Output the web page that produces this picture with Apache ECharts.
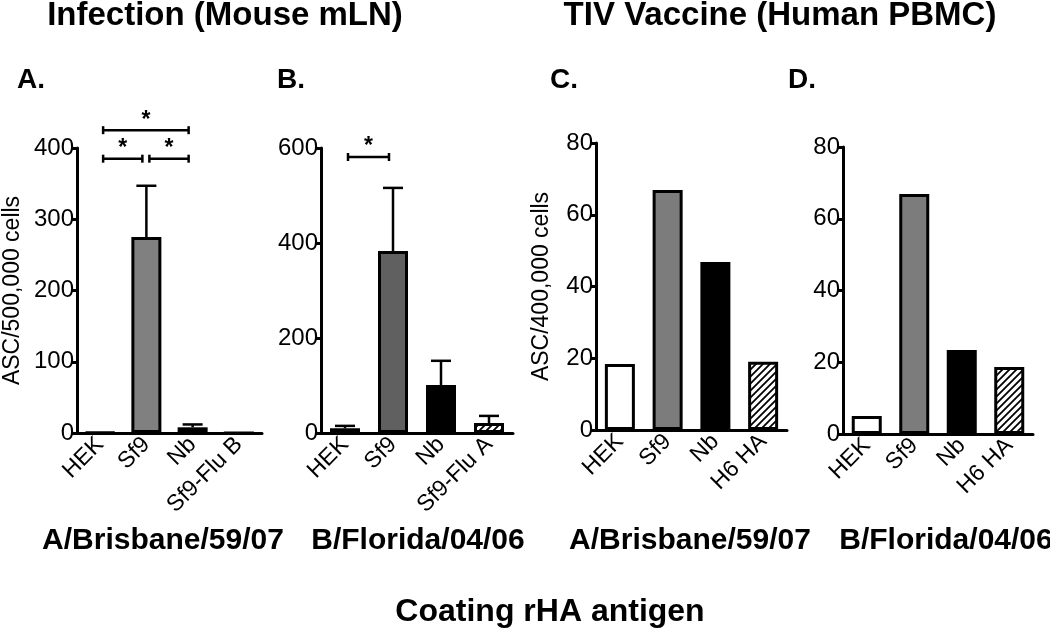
<!DOCTYPE html>
<html>
<head>
<meta charset="utf-8">
<script src="https://cdn.jsdelivr.net/npm/echarts@6/dist/echarts.min.js"></script>
<style>
  html, body { margin: 0; padding: 0; background: #fff; }
  #chart { width: 1050px; height: 633px; }
</style>
</head>
<body>
<div id="chart"></div>
<script>
// data
const catsA = ['HEK', 'Sf9', 'Nb', 'Sf9-Flu B']
const valsA = [1, 275, 8, 0]
const errsA = [0, 72, 4, 0]
const sigA = [[0, 1, 385], [1, 2, 385], [0, 2, 425]]

const catsB = ['HEK', 'Sf9', 'Nb', 'Sf9-Flu A']
const valsB = [10, 383, 101, 21]
const errsB = [5, 133, 51, 15]
const sigB = [[0, 1, 581]]

const catsC = ['HEK', 'Sf9', 'Nb', 'H6 HA']
const valsC = [18.4, 66.9, 46.8, 19]

const catsD = ['HEK', 'Sf9', 'Nb', 'H6 HA']
const valsD = [5, 66.9, 23.4, 18.7]

const FONT = '"Liberation Sans", Arial, Helvetica, sans-serif'

// diagonal hatch fill
function makeHatch () {
  const c = document.createElement('canvas')
  c.width = 7
  c.height = 7
  const ctx = c.getContext('2d')
  ctx.fillStyle = '#fff'
  ctx.fillRect(0, 0, 7, 7)
  ctx.strokeStyle = '#000'
  ctx.lineWidth = 1.8
  ctx.beginPath()
  ctx.moveTo(-1, 8); ctx.lineTo(8, -1)
  ctx.moveTo(-4, 4); ctx.lineTo(4, -4)
  ctx.moveTo(3, 11); ctx.lineTo(11, 3)
  ctx.stroke()
  return { image: c, repeat: 'repeat' }
}
const hatch = makeHatch()

function fills (sf9Color) {
  return ['#ffffff', sf9Color, '#000000', hatch]
}

const chart = echarts.init(document.getElementById('chart'), null, { renderer: 'canvas' })

const grids = [
  { left: 70, width: 192, top: 148, height: 285 },
  { left: 321, width: 192, top: 148, height: 285 },
  { left: 596, width: 191, top: 143, height: 287 },
  { left: 843, width: 190, top: 147, height: 287 }
]

function xAxis (i, cats) {
  return {
    type: 'category',
    gridIndex: i,
    data: cats,
    axisLine: { lineStyle: { color: '#000', width: 3 } },
    axisTick: { alignWithLabel: true, length: 6, lineStyle: { color: '#000', width: 3 } },
    axisLabel: { rotate: 45, interval: 0, fontSize: 23, color: '#000', margin: 8, fontFamily: FONT }
  }
}

function yAxis (i, max, interval, name, gap) {
  return {
    type: 'value',
    gridIndex: i,
    min: 0,
    max: max,
    interval: interval,
    name: name,
    nameLocation: 'middle',
    nameRotate: 90,
    nameGap: gap,
    nameTextStyle: { fontSize: 23, color: '#000', fontFamily: FONT },
    splitLine: { show: false },
    axisLine: { show: true, lineStyle: { color: '#000', width: 3 } },
    axisTick: { show: true, length: 5, lineStyle: { color: '#000', width: 3 } },
    axisLabel: { fontSize: 24, color: '#000', margin: 3, fontFamily: FONT }
  }
}

function barSeries (i, vals, sf9Color) {
  const f = fills(sf9Color)
  return {
    type: 'bar',
    xAxisIndex: i,
    yAxisIndex: i,
    barWidth: 30,
    data: vals.map((v, k) => ({ value: v, itemStyle: { color: f[k] } })),
    itemStyle: { borderColor: '#000', borderWidth: 3 },
    z: 2
  }
}

function errSeries (i, vals, errs) {
  return {
    type: 'custom',
    xAxisIndex: i,
    yAxisIndex: i,
    data: vals.map((v, k) => [k, v, v + errs[k]]),
    encode: { x: 0, y: [1, 2] },
    z: 3,
    renderItem: function (params, api) {
      if (api.value(2) - api.value(1) <= 0) return null
      const p0 = api.coord([api.value(0), api.value(1)])
      const p1 = api.coord([api.value(0), api.value(2)])
      const st = { stroke: '#000', lineWidth: 2.5 }
      return {
        type: 'group',
        children: [
          { type: 'line', shape: { x1: p0[0], y1: p0[1], x2: p1[0], y2: p1[1] }, style: st },
          { type: 'line', shape: { x1: p1[0] - 10, y1: p1[1], x2: p1[0] + 10, y2: p1[1] }, style: st }
        ]
      }
    }
  }
}

function sigSeries (i, sig) {
  return {
    type: 'custom',
    xAxisIndex: i,
    yAxisIndex: i,
    data: sig,
    encode: { x: [0, 1], y: 2 },
    z: 3,
    renderItem: function (params, api) {
      const a = api.coord([api.value(0), api.value(2)])
      const b = api.coord([api.value(1), api.value(2)])
      const x1 = a[0] + 3
      const x2 = b[0] - 4
      const y = a[1]
      const st = { stroke: '#000', lineWidth: 2.5 }
      return {
        type: 'group',
        children: [
          { type: 'line', shape: { x1: x1, y1: y, x2: x2, y2: y }, style: st },
          { type: 'line', shape: { x1: x1, y1: y - 4, x2: x1, y2: y + 4 }, style: st },
          { type: 'line', shape: { x1: x2, y1: y - 4, x2: x2, y2: y + 4 }, style: st },
          {
            type: 'text',
            style: {
              text: '*', x: (x1 + x2) / 2, y: y - 10,
              align: 'center', verticalAlign: 'middle',
              font: 'bold 23px ' + FONT, fill: '#000'
            }
          }
        ]
      }
    }
  }
}

function label (text, x, y, size, align) {
  return {
    type: 'text',
    style: {
      text: text, x: x, y: y,
      align: align || 'center', verticalAlign: 'middle',
      font: 'bold ' + size + 'px ' + FONT, fill: '#000'
    }
  }
}

const option = {
  backgroundColor: '#fff',
  animation: false,
  textStyle: { fontFamily: FONT },
  grid: grids,
  xAxis: [xAxis(0, catsA), xAxis(1, catsB), xAxis(2, catsC), xAxis(3, catsD)],
  yAxis: [
    yAxis(0, 400, 100, 'ASC/500,000 cells', 53),
    yAxis(1, 600, 200, '', 40),
    yAxis(2, 80, 20, 'ASC/400,000 cells', 43),
    yAxis(3, 80, 20, '', 40)
  ],
  series: [
    barSeries(0, valsA, '#808080'),
    errSeries(0, valsA, errsA),
    sigSeries(0, sigA),
    barSeries(1, valsB, '#606060'),
    errSeries(1, valsB, errsB),
    sigSeries(1, sigB),
    barSeries(2, valsC, '#7c7c7c'),
    barSeries(3, valsD, '#7c7c7c')
  ],
  graphic: [
    label('Infection (Mouse mLN)', 225, 16, 33),
    label('TIV Vaccine (Human PBMC)', 780, 16, 33),
    label('A.', 17, 80, 28, 'left'),
    label('B.', 277, 80, 28, 'left'),
    label('C.', 550, 80, 28, 'left'),
    label('D.', 788, 80, 28, 'left'),
    label('A/Brisbane/59/07', 163, 541, 30),
    label('B/Florida/04/06', 418, 541, 30),
    label('A/Brisbane/59/07', 690, 541, 30),
    label('B/Florida/04/06', 946, 541, 30),
    label('Coating rHA antigen', 550, 612, 32)
  ]
}

chart.setOption(option)
</script>
</body>
</html>
